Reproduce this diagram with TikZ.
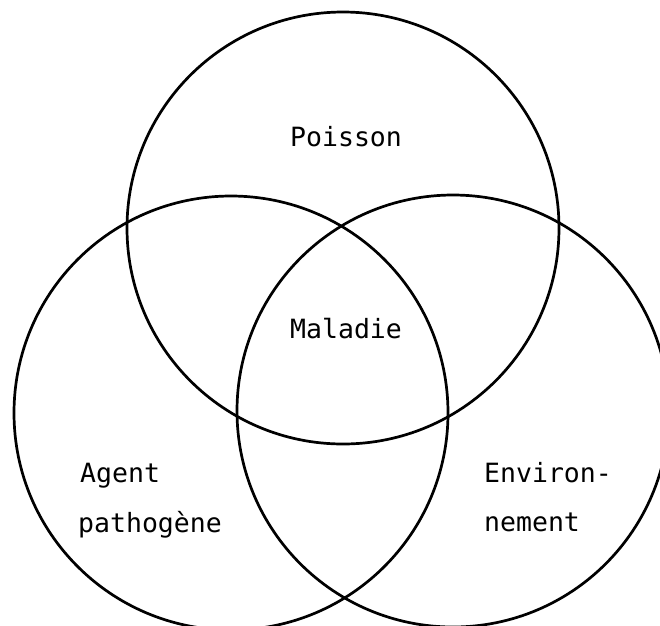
\documentclass[tikz,border=0pt]{standalone}
\usepackage{fontspec}
\newfontfamily\typew{DejaVu Sans Mono}
\begin{document}
\begin{tikzpicture}[x=1pt,y=-1pt,
  ring/.style={circle,draw=black,line width=2.7pt,inner sep=0pt},
  lbl/.style={font=\typew\fontsize{26.5}{30}\selectfont,inner sep=0pt,anchor=base west,text=black}]
\useasboundingbox (0,0) rectangle (660,625);
\fill[white] (0,0) rectangle (660,625);
\clip (0,0) rectangle (660,625);
\node[ring,minimum size=432pt] (top) at (343,228) {};
\node[ring,minimum size=434pt] (left) at (231,413) {};
\node[ring,minimum size=432pt] (right) at (453,411) {};
\node[lbl] (poisson) at (290,146) {Poisson};
\node[lbl] (maladie) at (290,338) {Maladie};
\node[lbl] (agent) at (80,482) {Agent};
\node[lbl] (patho) at (78,532) {pathogène};
\node[lbl] (env) at (484,482) {Environ-};
\node[lbl] (nem) at (484,531) {nement};
\end{tikzpicture}
\end{document}
